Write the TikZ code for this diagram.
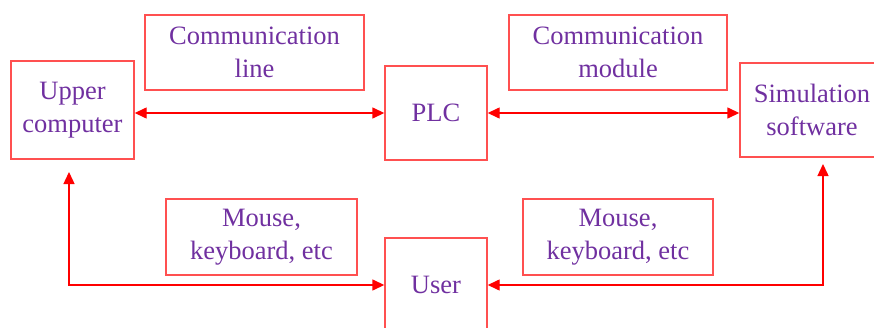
\documentclass[tikz,border=0pt]{standalone}
\usepackage{fontspec}
\setmainfont{Liberation Serif}
\usetikzlibrary{arrows.meta,calc}
\definecolor{txtpurple}{RGB}{112,48,160}
\definecolor{boxred}{RGB}{255,80,80}
\begin{document}
\begin{tikzpicture}[x=1pt,y=1pt,
  box/.style={draw=boxred,line width=1.4pt,rectangle,inner sep=0pt,
    text=txtpurple,align=center,font=\fontsize{26.5}{33}\selectfont},
  conn/.style={draw=red,line width=1.4pt,{Triangle[length=12pt,width=11pt]}-{Triangle[length=12pt,width=11pt]}}]
\useasboundingbox (0,0) rectangle (874,327);
\begin{scope}
\clip (0,0) rectangle (874,327);
\node[box,minimum width=123pt,minimum height=98pt] (upper) at (72.5,217) {Upper\\computer};
\node[box,minimum width=219pt,minimum height=75pt] (cline) at (254.5,274.5) {Communication\\line};
\node[box,minimum width=102pt,minimum height=94pt] (plc) at (436,214) {PLC};
\node[box,minimum width=218pt,minimum height=75pt] (cmod) at (618,274.5) {Communication\\module};
\node[box,minimum width=144pt,minimum height=94pt] (sim) at (812,217) {Simulation\\software};
\node[box,minimum width=191pt,minimum height=76pt] (mouse1) at (261.5,90) {Mouse,\\keyboard, etc};
\node[box,minimum width=190pt,minimum height=76pt] (mouse2) at (618,90) {Mouse,\\keyboard, etc};
\node[box,minimum width=102pt,minimum height=94pt] (user) at (436,42) {User};
\end{scope}
\coordinate (ua) at (69,155);
\coordinate (sa) at (823,163);
\draw[conn] (upper.east |- plc.west) -- (plc.west);
\draw[conn] (plc.east) -- (plc.east -| sim.west);
\draw[conn] (ua) |- (user.west);
\draw[conn] (sa) |- (user.east);
\end{tikzpicture}
\end{document}
